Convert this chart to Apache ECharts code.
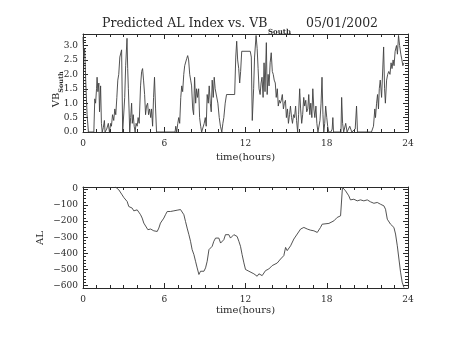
<!DOCTYPE html>
<html><head><meta charset="utf-8">
<script src="https://cdn.jsdelivr.net/npm/echarts@6/dist/echarts.min.js"></script>
<style>html,body{margin:0;padding:0;background:#fff}#c{width:453px;height:340px}</style>
</head><body><div id="c"></div>
<script>
// ---- data ----
const vbTimes = [0.0,0.05,0.12,0.2,0.3,0.4,0.8,0.87,0.93,1.0,1.04,1.1,1.17,1.22,1.3,1.36,1.42,1.5,1.58,1.63,
 1.75,1.87,1.95,2.05,2.1,2.18,2.27,2.35,2.42,2.5,2.57,2.64,2.72,2.85,2.93,3.0,3.08,3.15,3.25,3.3,3.35,3.4,3.45,
 3.52,3.59,3.64,3.71,3.78,3.85,3.92,4.0,4.07,4.15,4.25,4.33,4.4,4.47,4.55,4.62,4.69,4.77,4.84,4.92,5.0,5.06,5.14,
 5.21,5.28,5.36,5.43,6.8,6.85,6.92,7.0,7.07,7.14,7.22,7.29,7.36,7.44,7.51,7.58,7.66,7.73,7.8,7.88,7.95,8.02,8.1,
 8.17,8.24,8.32,8.39,8.46,8.54,8.61,8.69,8.76,8.88,8.95,9.03,9.1,9.17,9.25,9.32,9.4,9.47,9.54,9.62,9.69,9.76,9.86,
 9.96,10.06,10.15,10.25,10.33,10.4,10.5,10.6,11.2,11.28,11.35,11.42,11.5,11.57,11.64,11.72,12.35,12.43,12.5,12.6,
 12.67,12.78,12.86,12.93,13.0,13.08,13.15,13.22,13.3,13.37,13.44,13.54,13.6,13.67,13.74,13.82,13.9,13.98,14.05,
 14.12,14.2,14.27,14.35,14.42,14.5,14.57,14.64,14.72,14.8,14.87,14.95,15.02,15.1,15.17,15.25,15.32,15.4,15.47,
 15.55,15.62,15.7,15.77,15.85,15.92,16.0,16.07,16.15,16.22,16.3,16.37,16.45,16.52,16.6,16.67,16.75,16.82,16.9,
 16.97,17.05,17.12,17.2,17.27,17.35,17.4,17.5,17.58,17.65,17.72,17.78,17.85,17.92,18.0,18.07,18.15,18.3,18.4,
 18.45,18.5,19.05,19.1,19.17,19.25,19.4,19.5,19.7,19.85,20.1,20.2,20.27,21.3,21.45,21.55,21.6,21.68,21.75,21.82,
 21.88,21.95,22.05,22.2,22.27,22.33,22.42,22.5,22.58,22.67,22.75,22.82,22.9,22.97,23.05,23.15,23.22,23.3,23.38,
 23.47,23.55,23.62,23.7];
const vbValues = [3.3,2.6,2.9,1.8,0.6,0,0,1.15,1.0,1.5,1.9,1.4,1.7,0.7,1.6,0.3,0,0.15,0.4,0,
 0.1,0.3,0,0.3,0.2,0.6,0.4,0.8,0.6,1.2,1.8,2.0,2.6,2.85,0,0,1.2,2.3,3.25,2.2,1.5,0.8,0,
 0.5,1.0,0.3,0.6,0.2,0,0.3,0.2,0.5,0.3,1.6,2.1,2.2,1.8,1.3,0.6,0.9,1.0,0.6,0.8,0.5,0.8,0.2,
 1.2,1.9,0.8,0,0,0.2,0,0.3,0.5,0.3,1.2,1.6,1.4,2.0,2.3,2.35,2.55,2.65,2.5,2.0,1.8,1.6,0.8,
 0.6,1.9,1.0,1.5,1.2,1.5,0.5,0.2,0,0,0.3,0.5,0.2,1.3,1.0,1.6,1.0,0.7,1.8,1.2,1.9,1.5,1.5,
 1.0,0.5,0.2,0,0.3,0.5,1.0,1.3,1.3,2.6,3.15,2.5,2.2,1.7,2.1,2.8,2.8,2.6,0.4,1.5,
 2.6,3.35,2.9,2.2,1.5,1.3,1.7,1.9,1.2,2.4,1.4,3.1,1.3,2.0,1.6,2.4,2.75,2.1,2.0,
 1.8,1.7,1.2,1.5,0.9,1.1,1.0,1.1,1.3,0.8,1.0,1.1,0.5,0.8,0.3,0.6,0.9,0.5,0.3,
 0.6,0.5,0.9,0.4,0,0.6,1.5,0.8,0.3,0.6,1.2,0.9,1.1,0.7,0.8,1.3,0.6,1.0,0.5,
 1.5,0.8,0.5,0.9,0.3,0,0,0.4,1.0,1.9,0.6,0,0.3,0.9,0.5,0.2,0,0,0.1,
 0.5,0,0,1.2,0.3,0,0.3,0,0.2,0,0.1,0.9,0,0,0.2,0.8,0.5,1.0,1.3,0.8,
 1.5,1.8,1.2,2.95,1.5,1.0,1.8,2.0,2.1,2.0,2.4,2.2,2.5,2.3,2.8,3.0,2.7,3.35,3.0,
 2.7,2.5,2.3,2.4];
const alTimes = [2.4,2.65,2.77,2.89,3.02,3.14,3.26,3.38,3.51,3.63,3.75,3.88,4.0,4.12,4.25,4.37,4.49,4.62,4.79,4.99,
 5.11,5.23,5.35,5.48,5.6,5.72,5.85,5.97,6.09,6.22,6.34,6.46,6.71,6.95,7.2,7.32,7.45,7.57,7.69,7.82,7.94,8.06,8.19,
 8.31,8.43,8.56,8.68,8.8,8.93,9.05,9.17,9.3,9.42,9.54,9.66,9.79,9.91,10.03,10.16,10.28,10.4,10.52,10.65,10.77,
 10.89,11.02,11.14,11.26,11.38,11.51,11.63,11.75,11.88,12.0,12.12,12.25,12.37,12.62,12.86,12.99,13.11,13.23,13.33,
 13.48,13.72,13.97,14.09,14.34,14.59,14.83,14.96,15.08,15.33,15.57,15.82,16.07,16.31,16.56,16.8,17.05,17.3,17.54,
 17.66,17.79,18.16,18.53,18.77,19.02,19.14,19.16,19.39,19.63,19.75,20.0,20.25,20.49,20.74,20.99,21.23,21.48,21.73,
 21.97,22.22,22.34,22.47,22.71,22.96,23.08,23.21,23.33,23.45,23.57,23.7];
const alValues = [12,-6,-16,-37,-54,-58,-78,-109,-119,-119,-136,-140,-130,-144,-160,-181,-212,-222,-253,-249,
 -243,-260,-268,-264,-243,-212,-202,-181,-160,-140,-136,-140,-136,-132,-128,-136,-160,-202,-243,-284,-325,-377,-408,
 -449,-490,-531,-511,-500,-511,-490,-449,-377,-387,-356,-325,-305,-295,-305,-336,-346,-315,-284,-278,-284,
 -305,-295,-284,-291,-295,-325,-356,-408,-459,-500,-500,-511,-521,-527,-542,-527,-517,-538,-548,
 -507,-497,-476,-466,-460,-435,-414,-363,-383,-353,-311,-280,-249,-239,-249,-256,-260,-270,-239,
 -219,-225,-214,-198,-177,-167,-167,10,-12,-43,-68,-64,-74,-68,-74,-68,-80,-89,-84,
 -95,-105,-126,-188,-219,-239,-280,-353,-435,-517,-579,-612];
const hourTicks = [0, 6, 12, 18, 24];
const vbRange = [0, 3.4];
const alRange = [-615, 12];
const titleText = 'Predicted AL Index vs. VB';
const titleSub = 'South';
const titleDate = '05/01/2002';
const xName = 'time(hours)';

// ---- chart ----
const FONT = 'DejaVu Serif';
const INK = '#2a2a2a';
const LINE = '#404040';
const chart = echarts.init(document.getElementById('c'), null, {renderer: 'canvas'});
const minus = v => (v < 0 ? '\u2212' + (-v) : String(v));

function xAx(grid, pos, labels) {
  return {
    type: 'value', gridIndex: grid, position: pos,
    min: hourTicks[0], max: hourTicks[hourTicks.length - 1], interval: hourTicks[1] - hourTicks[0],
    axisLine: {show: true, onZero: false, lineStyle: {color: INK, width: 1}},
    axisTick: {show: true, inside: true, length: 5, lineStyle: {color: INK}},
    minorTick: {show: true, splitNumber: 6, length: 3, lineStyle: {color: INK}},
    splitLine: {show: false}, minorSplitLine: {show: false},
    axisLabel: {show: labels, color: INK, fontFamily: FONT, fontSize: 9, margin: 7}
  };
}
function yAx(grid, pos, labels, range, extra) {
  return Object.assign({
    type: 'value', gridIndex: grid, position: pos, min: range[0], max: range[1],
    axisLine: {show: true, onZero: false, lineStyle: {color: INK, width: 1}},
    axisTick: {show: true, inside: true, length: 5, lineStyle: {color: INK}},
    minorTick: {show: true, splitNumber: 5, length: 3, lineStyle: {color: INK}},
    splitLine: {show: false}, minorSplitLine: {show: false},
    axisLabel: {show: labels, color: INK, fontFamily: FONT, fontSize: 9, margin: 5,
      showMinLabel: grid === 0, showMaxLabel: false,
      formatter: grid === 0 ? (v => v.toFixed(1)) : minus}
  }, extra || {});
}

const txt = (x, y, text, size, opts) => Object.assign({
  type: 'text', x: x, y: y, silent: true,
  style: {text: text, fill: INK, font: (opts && opts.bold ? 'bold ' : '') + size + 'px "' + FONT + '"',
    textAlign: (opts && opts.align) || 'left', textVerticalAlign: 'middle'}
}, opts && opts.rot ? {rotation: opts.rot} : {});

chart.setOption({
  animation: false,
  backgroundColor: '#fff',
  grid: [
    {left: 83, top: 34, width: 325, height: 98, containLabel: false},
    {left: 83, top: 187, width: 325, height: 101, containLabel: false}
  ],
  xAxis: [xAx(0, 'bottom', true), xAx(0, 'top', false), xAx(1, 'bottom', true), xAx(1, 'top', false)],
  yAxis: [
    yAx(0, 'left', true, vbRange, {interval: 0.5}),
    yAx(0, 'right', false, vbRange, {interval: 0.5}),
    yAx(1, 'left', true, alRange),
    yAx(1, 'right', false, alRange)
  ],
  series: [
    {type: 'line', xAxisIndex: 0, yAxisIndex: 0, showSymbol: false, symbol: 'none',
     lineStyle: {color: LINE, width: 0.9}, data: vbTimes.map((t, i) => [t, vbValues[i]])},
    {type: 'line', xAxisIndex: 2, yAxisIndex: 2, showSymbol: false, symbol: 'none',
     lineStyle: {color: LINE, width: 0.9}, data: alTimes.map((t, i) => [t, alValues[i]])}
  ],
  graphic: [
    txt(102, 24, titleText, 12.5),
    txt(268, 32, titleSub, 7, {bold: true}),
    txt(306, 24, titleDate, 12.5),
    txt(245.5, 157, xName, 10, {align: 'center'}),
    txt(245.5, 310, xName, 10, {align: 'center'}),
    txt(56, 100, 'VB', 10, {align: 'center', rot: Math.PI / 2}),
    txt(61.5, 82, titleSub, 6.5, {align: 'center', bold: true, rot: Math.PI / 2}),
    txt(40, 238, 'AL', 10, {align: 'center', rot: Math.PI / 2})
  ]
});
</script></body></html>
